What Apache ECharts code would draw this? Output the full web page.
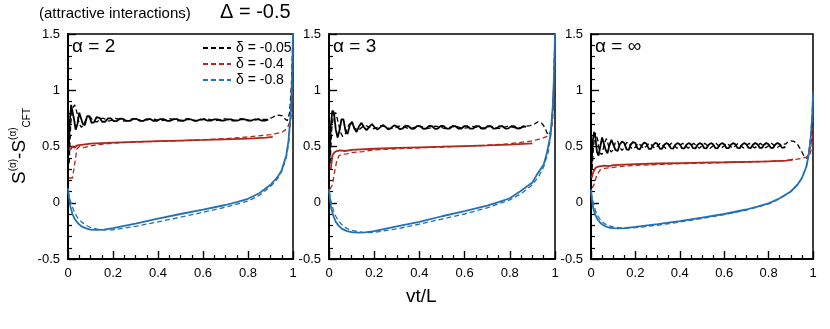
<!DOCTYPE html>
<html>
<head>
<meta charset="utf-8">
<script src="https://cdn.jsdelivr.net/npm/echarts@6/dist/echarts.min.js"></script>
</head>
<body style="margin:0">
<div id="chart" style="width:830px;height:329px"></div>
<script>
// panel labels and legend names
const panelLabels = ['α = 2', 'α = 3', 'α = ∞'];
const deltaNames = ['δ = -0.05', 'δ = -0.4', 'δ = -0.8'];

// ---- alpha = 2 ----
const blackSolid2 = [[0.003,0.45],[0.008,0.72],[0.014,0.87],[0.02,0.86],[0.027,0.74],[0.034,0.65],[0.042,0.70],[0.05,0.80],[0.058,0.79],[0.066,0.70],[0.075,0.69],[0.085,0.77],[0.095,0.77],[0.105,0.71],[0.115,0.715],[0.127,0.76],[0.14,0.755],[0.152,0.72],[0.165,0.72],[0.178,0.75],[0.19,0.75],[0.203,0.725],[0.216,0.725],[0.23,0.748],[0.245,0.745],[0.26,0.727],[0.275,0.728],[0.29,0.745],[0.305,0.745],[0.32,0.728],[0.335,0.728],[0.35,0.744],[0.365,0.744],[0.38,0.728],[0.395,0.728],[0.41,0.744],[0.425,0.743],[0.44,0.728],[0.455,0.729],[0.47,0.743],[0.485,0.743],[0.5,0.729],[0.515,0.729],[0.53,0.743],[0.545,0.742],[0.56,0.729],[0.575,0.73],[0.59,0.742],[0.605,0.742],[0.62,0.73],[0.635,0.73],[0.65,0.742],[0.665,0.741],[0.68,0.73],[0.695,0.731],[0.71,0.742],[0.725,0.741],[0.74,0.73],[0.755,0.731],[0.77,0.742],[0.785,0.742],[0.8,0.73],[0.815,0.73],[0.83,0.742],[0.845,0.742],[0.86,0.731],[0.875,0.73],[0.89,0.738]];
const blackDashed2 = [[0.005,0.35],[0.012,0.70],[0.02,0.84],[0.03,0.87],[0.04,0.80],[0.05,0.70],[0.06,0.67],[0.07,0.70],[0.085,0.76],[0.1,0.76],[0.115,0.72],[0.13,0.72],[0.145,0.75],[0.16,0.75],[0.175,0.725],[0.19,0.73],[0.21,0.75],[0.23,0.74],[0.25,0.725],[0.27,0.735],[0.29,0.748],[0.31,0.74],[0.33,0.728],[0.35,0.735],[0.37,0.747],[0.39,0.74],[0.41,0.728],[0.43,0.735],[0.45,0.747],[0.47,0.74],[0.49,0.728],[0.51,0.735],[0.53,0.747],[0.55,0.74],[0.57,0.728],[0.59,0.735],[0.61,0.747],[0.63,0.74],[0.65,0.728],[0.67,0.736],[0.69,0.748],[0.71,0.74],[0.73,0.728],[0.75,0.736],[0.77,0.748],[0.79,0.742],[0.81,0.73],[0.83,0.735],[0.85,0.745],[0.87,0.74],[0.89,0.74],[0.91,0.76],[0.93,0.78],[0.95,0.775],[0.965,0.745],[0.975,0.73],[0.985,0.80],[0.993,1.05],[1,1.5]];
const redSolid2 = [[0.01,0.47],[0.02,0.50],[0.03,0.49],[0.04,0.51],[0.06,0.515],[0.1,0.525],[0.2,0.535],[0.3,0.542],[0.4,0.548],[0.5,0.553],[0.6,0.558],[0.7,0.564],[0.8,0.57],[0.88,0.578],[0.91,0.585]];
const redDashed2 = [[0.005,0.22],[0.02,0.22],[0.03,0.35],[0.04,0.48],[0.05,0.50],[0.07,0.49],[0.1,0.505],[0.15,0.52],[0.2,0.53],[0.3,0.54],[0.4,0.545],[0.5,0.552],[0.6,0.56],[0.7,0.57],[0.8,0.585],[0.9,0.605],[0.95,0.625],[0.975,0.66],[0.99,0.75],[0.997,1.0],[1,1.5]];
const blueSolid2 = [[0,0.13],[0.005,0.04],[0.01,-0.03],[0.02,-0.1],[0.03,-0.145],[0.045,-0.185],[0.06,-0.21],[0.08,-0.228],[0.1,-0.238],[0.13,-0.242],[0.16,-0.238],[0.2,-0.225],[0.3,-0.185],[0.4,-0.142],[0.5,-0.1],[0.6,-0.062],[0.7,-0.02],[0.75,0.005],[0.8,0.035],[0.85,0.085],[0.9,0.16],[0.93,0.225],[0.95,0.29],[0.97,0.42],[0.98,0.55],[0.99,0.8],[0.996,1.1],[1,1.5]];
const blueDashed2 = [[0,0.1],[0.005,0.06],[0.01,0.02],[0.02,-0.04],[0.03,-0.09],[0.045,-0.14],[0.06,-0.17],[0.08,-0.2],[0.1,-0.22],[0.13,-0.235],[0.16,-0.242],[0.2,-0.24],[0.3,-0.21],[0.4,-0.17],[0.5,-0.128],[0.6,-0.085],[0.7,-0.04],[0.8,0.015],[0.85,0.065],[0.9,0.145],[0.93,0.21],[0.95,0.28],[0.97,0.40],[0.98,0.52],[0.99,0.75],[0.996,1.05],[1,1.5]];

// ---- alpha = 3 ----
const blackSolid3 = [[0.003,0.40],[0.008,0.68],[0.015,0.82],[0.022,0.80],[0.03,0.65],[0.038,0.58],[0.046,0.64],[0.055,0.74],[0.064,0.74],[0.073,0.64],[0.082,0.61],[0.092,0.69],[0.102,0.72],[0.112,0.66],[0.122,0.63],[0.133,0.68],[0.144,0.71],[0.155,0.67],[0.166,0.645],[0.178,0.675],[0.19,0.70],[0.202,0.67],[0.214,0.65],[0.226,0.67],[0.238,0.69],[0.25,0.675],[0.262,0.652],[0.275,0.665],[0.288,0.688],[0.3,0.68],[0.313,0.655],[0.326,0.66],[0.339,0.685],[0.352,0.68],[0.365,0.656],[0.378,0.66],[0.391,0.684],[0.404,0.68],[0.417,0.657],[0.43,0.66],[0.443,0.683],[0.456,0.68],[0.469,0.657],[0.482,0.66],[0.495,0.683],[0.508,0.68],[0.521,0.658],[0.534,0.66],[0.547,0.682],[0.56,0.68],[0.573,0.658],[0.586,0.66],[0.599,0.682],[0.612,0.68],[0.625,0.658],[0.638,0.66],[0.651,0.682],[0.664,0.68],[0.677,0.658],[0.69,0.66],[0.703,0.682],[0.716,0.68],[0.729,0.658],[0.742,0.661],[0.755,0.682],[0.768,0.68],[0.781,0.659],[0.794,0.661],[0.807,0.681],[0.82,0.68],[0.833,0.66],[0.846,0.662],[0.859,0.68],[0.872,0.675]];
const blackDashed3 = [[0.005,0.35],[0.012,0.65],[0.02,0.78],[0.03,0.80],[0.04,0.72],[0.05,0.63],[0.06,0.59],[0.07,0.60],[0.08,0.66],[0.09,0.70],[0.1,0.70],[0.115,0.66],[0.13,0.645],[0.145,0.67],[0.16,0.69],[0.175,0.675],[0.19,0.655],[0.21,0.665],[0.23,0.685],[0.25,0.675],[0.27,0.658],[0.29,0.665],[0.31,0.682],[0.33,0.676],[0.35,0.66],[0.37,0.664],[0.39,0.681],[0.41,0.676],[0.43,0.66],[0.45,0.665],[0.47,0.681],[0.49,0.675],[0.51,0.66],[0.53,0.666],[0.55,0.681],[0.57,0.675],[0.59,0.66],[0.61,0.666],[0.63,0.68],[0.65,0.675],[0.67,0.66],[0.69,0.667],[0.71,0.68],[0.73,0.674],[0.75,0.66],[0.77,0.667],[0.79,0.68],[0.81,0.674],[0.83,0.662],[0.85,0.668],[0.87,0.68],[0.89,0.685],[0.91,0.70],[0.925,0.72],[0.94,0.71],[0.955,0.67],[0.965,0.62],[0.975,0.60],[0.985,0.67],[0.993,0.95],[1,1.5]];
const redSolid3 = [[0.008,0.30],[0.015,0.42],[0.025,0.45],[0.035,0.46],[0.05,0.465],[0.07,0.46],[0.1,0.47],[0.2,0.48],[0.3,0.487],[0.4,0.493],[0.5,0.498],[0.6,0.504],[0.7,0.51],[0.8,0.517],[0.9,0.528]];
const redDashed3 = [[0.005,0.12],[0.015,0.16],[0.025,0.28],[0.035,0.38],[0.045,0.42],[0.06,0.43],[0.08,0.435],[0.1,0.445],[0.15,0.455],[0.2,0.47],[0.3,0.48],[0.4,0.488],[0.5,0.495],[0.6,0.502],[0.7,0.512],[0.8,0.525],[0.9,0.55],[0.94,0.57],[0.965,0.59],[0.98,0.62],[0.99,0.75],[0.997,1.1],[1,1.5]];
const blueSolid3 = [[0,0.12],[0.005,0.02],[0.01,-0.05],[0.02,-0.12],[0.03,-0.17],[0.045,-0.21],[0.06,-0.235],[0.08,-0.252],[0.1,-0.262],[0.13,-0.266],[0.16,-0.263],[0.2,-0.252],[0.3,-0.21],[0.4,-0.17],[0.5,-0.12],[0.6,-0.075],[0.7,-0.025],[0.75,0.005],[0.8,0.04],[0.845,0.1],[0.9,0.18],[0.92,0.25],[0.95,0.34],[0.965,0.45],[0.98,0.6],[0.99,0.85],[0.996,1.15],[1,1.5]];
const blueDashed3 = [[0,0.1],[0.005,0.05],[0.01,0.0],[0.02,-0.07],[0.03,-0.12],[0.045,-0.17],[0.06,-0.2],[0.08,-0.23],[0.1,-0.245],[0.13,-0.258],[0.16,-0.265],[0.2,-0.264],[0.3,-0.232],[0.4,-0.19],[0.5,-0.145],[0.6,-0.1],[0.7,-0.045],[0.8,0.025],[0.85,0.08],[0.9,0.16],[0.93,0.24],[0.95,0.32],[0.97,0.45],[0.98,0.58],[0.99,0.82],[0.996,1.1],[1,1.5]];

// ---- alpha = infinity ----
const blackSolidInf = [[0.003,0.35],[0.008,0.55],[0.014,0.63],[0.02,0.58],[0.027,0.45],[0.034,0.42],[0.042,0.50],[0.05,0.58],[0.058,0.57],[0.066,0.47],[0.074,0.44],[0.083,0.51],[0.092,0.56],[0.101,0.55],[0.11,0.47],[0.12,0.46],[0.13,0.52],[0.14,0.545],[0.15,0.53],[0.16,0.475],[0.17,0.47],[0.18,0.52],[0.19,0.54],[0.2,0.53],[0.21,0.48],[0.22,0.475],[0.23,0.515],[0.24,0.535],[0.25,0.525],[0.26,0.48],[0.27,0.478],[0.28,0.515],[0.29,0.532],[0.3,0.522],[0.31,0.482],[0.32,0.48],[0.33,0.515],[0.34,0.53],[0.35,0.52],[0.36,0.483],[0.37,0.482],[0.38,0.515],[0.39,0.53],[0.4,0.52],[0.41,0.484],[0.42,0.483],[0.43,0.515],[0.44,0.53],[0.45,0.52],[0.46,0.485],[0.47,0.483],[0.48,0.515],[0.49,0.53],[0.5,0.52],[0.51,0.485],[0.52,0.484],[0.53,0.515],[0.54,0.53],[0.55,0.52],[0.56,0.486],[0.57,0.484],[0.58,0.516],[0.59,0.53],[0.6,0.52],[0.61,0.486],[0.62,0.485],[0.63,0.516],[0.64,0.53],[0.65,0.52],[0.66,0.487],[0.67,0.485],[0.68,0.516],[0.69,0.53],[0.7,0.52],[0.71,0.487],[0.72,0.486],[0.73,0.517],[0.74,0.53],[0.75,0.52],[0.76,0.488],[0.77,0.487],[0.78,0.517],[0.79,0.53],[0.8,0.52],[0.81,0.488],[0.82,0.487],[0.83,0.518],[0.84,0.532],[0.85,0.52],[0.86,0.49],[0.87,0.49],[0.875,0.5]];
const blackDashedInf = [[0.005,0.30],[0.012,0.52],[0.02,0.62],[0.03,0.56],[0.04,0.44],[0.05,0.43],[0.06,0.53],[0.07,0.57],[0.08,0.50],[0.09,0.45],[0.1,0.47],[0.11,0.54],[0.12,0.55],[0.13,0.49],[0.14,0.465],[0.15,0.49],[0.16,0.535],[0.17,0.535],[0.18,0.49],[0.19,0.475],[0.2,0.495],[0.2125,0.53],[0.225,0.508],[0.2375,0.482],[0.25,0.505],[0.2625,0.53],[0.275,0.508],[0.2875,0.483],[0.3,0.505],[0.3125,0.53],[0.325,0.507],[0.3375,0.483],[0.35,0.505],[0.3625,0.529],[0.375,0.507],[0.3875,0.484],[0.4,0.505],[0.4125,0.529],[0.425,0.507],[0.4375,0.484],[0.45,0.505],[0.4625,0.529],[0.475,0.507],[0.4875,0.485],[0.5,0.505],[0.5125,0.528],[0.525,0.507],[0.5375,0.485],[0.55,0.506],[0.5625,0.528],[0.575,0.507],[0.5875,0.486],[0.6,0.506],[0.6125,0.528],[0.625,0.507],[0.6375,0.486],[0.65,0.506],[0.6625,0.528],[0.675,0.507],[0.6875,0.487],[0.7,0.506],[0.7125,0.528],[0.725,0.507],[0.7375,0.487],[0.75,0.506],[0.7625,0.528],[0.775,0.508],[0.7875,0.488],[0.8,0.507],[0.8125,0.528],[0.825,0.508],[0.8375,0.488],[0.85,0.507],[0.8625,0.528],[0.875,0.52],[0.8875,0.54],[0.9,0.55],[0.915,0.545],[0.93,0.52],[0.945,0.47],[0.96,0.415],[0.97,0.395],[0.98,0.43],[0.99,0.52],[1,0.75]];
const redSolidInf = [[0.003,0.22],[0.01,0.27],[0.02,0.31],[0.03,0.32],[0.045,0.325],[0.06,0.33],[0.08,0.325],[0.1,0.335],[0.2,0.343],[0.3,0.349],[0.4,0.353],[0.5,0.357],[0.6,0.36],[0.7,0.364],[0.8,0.368],[0.88,0.375],[0.91,0.385]];
const redDashedInf = [[0.005,0.13],[0.015,0.17],[0.025,0.24],[0.04,0.29],[0.06,0.305],[0.08,0.31],[0.1,0.315],[0.15,0.325],[0.2,0.332],[0.3,0.34],[0.4,0.347],[0.5,0.352],[0.6,0.357],[0.7,0.362],[0.8,0.368],[0.88,0.375],[0.92,0.385],[0.95,0.395],[0.97,0.405],[0.985,0.42],[0.995,0.5],[1,0.65]];
const blueSolidInf = [[0,0.12],[0.005,0.02],[0.01,-0.05],[0.02,-0.11],[0.03,-0.15],[0.045,-0.185],[0.06,-0.205],[0.08,-0.22],[0.1,-0.226],[0.12,-0.228],[0.15,-0.225],[0.2,-0.215],[0.3,-0.19],[0.4,-0.163],[0.5,-0.133],[0.6,-0.1],[0.7,-0.06],[0.75,-0.035],[0.8,-0.005],[0.85,0.04],[0.9,0.1],[0.93,0.16],[0.95,0.22],[0.97,0.32],[0.98,0.42],[0.99,0.58],[0.996,0.75],[1,0.95]];
const blueDashedInf = [[0,0.09],[0.005,0.04],[0.01,0.0],[0.02,-0.07],[0.03,-0.115],[0.045,-0.16],[0.06,-0.185],[0.08,-0.205],[0.1,-0.215],[0.13,-0.222],[0.16,-0.225],[0.2,-0.222],[0.3,-0.2],[0.4,-0.172],[0.5,-0.14],[0.6,-0.105],[0.7,-0.065],[0.8,-0.01],[0.85,0.035],[0.9,0.1],[0.93,0.16],[0.95,0.22],[0.97,0.32],[0.98,0.43],[0.99,0.6],[0.996,0.78],[1,1.0]];

// [black, red, blue] for each panel
const solidLines = [
  [blackSolid2, redSolid2, blueSolid2],
  [blackSolid3, redSolid3, blueSolid3],
  [blackSolidInf, redSolidInf, blueSolidInf]
];
const dashedLines = [
  [blackDashed2, redDashed2, blueDashed2],
  [blackDashed3, redDashed3, blueDashed3],
  [blackDashedInf, redDashedInf, blueDashedInf]
];

const colors = ['#000000', '#b3261c', '#2271b5'];
const FONT = 'Liberation Sans';
const grids = [
  { left: 68, top: 34, width: 225, height: 225 },
  { left: 329, top: 34, width: 226, height: 225 },
  { left: 591, top: 34, width: 222, height: 225 }
];

const chart = echarts.init(document.getElementById('chart'));

const series = [];
// dashed series first so the legend icons come from them
dashedLines.forEach((lines, p) => {
  lines.forEach((data, k) => {
    series.push({
      type: 'line', name: deltaNames[k], xAxisIndex: p, yAxisIndex: p, data: data,
      symbol: 'none',
      lineStyle: { color: colors[k], width: 1.3, type: [5, 3] },
      itemStyle: { color: colors[k] }
    });
  });
});
solidLines.forEach((lines, p) => {
  lines.forEach((data, k) => {
    series.push({
      type: 'line', name: deltaNames[k] + ' (solid)', xAxisIndex: p, yAxisIndex: p, data: data,
      symbol: 'none',
      lineStyle: { color: colors[k], width: 1.8 },
      itemStyle: { color: colors[k] }
    });
  });
});

const plainText = (text, left, top, size) => ({
  text: text, left: left, top: top, padding: 0,
  textStyle: { fontFamily: FONT, fontSize: size, fontWeight: 'normal', color: '#000' }
});
const titles = [
  plainText('(attractive interactions)', 39, 6, 15),
  plainText('Δ = -0.5', 220, 2, 20),
  plainText('vt/L', 406, 287, 19)
];
panelLabels.forEach((t, i) => titles.push(plainText(t, grids[i].left + 4, 37, 19)));

// rotated y axis title, kept out of the axis name
const yTitle = {
  type: 'text',
  x: 20, y: 146,
  rotation: Math.PI / 2,
  style: {
    text: '{s|S}{sup|(α)}{s|-S}{sup|(α)}{sub|CFT}',
    align: 'center',
    verticalAlign: 'middle',
    rich: {
      s: { fontFamily: FONT, fontSize: 19, fill: '#000', lineHeight: 30, verticalAlign: 'middle' },
      sup: { fontFamily: FONT, fontSize: 10, fill: '#000', lineHeight: 30, verticalAlign: 'top', padding: [3, 0, 0, 0] },
      sub: { fontFamily: FONT, fontSize: 10, fill: '#000', lineHeight: 30, verticalAlign: 'bottom', padding: [0, 0, 3, 0] }
    }
  }
};

chart.setOption({
  animation: false,
  title: titles,
  grid: grids.map(g => Object.assign({ show: true, borderColor: '#000', borderWidth: 1.5, backgroundColor: 'transparent' }, g)),
  xAxis: grids.map((g, i) => ({
    type: 'value', gridIndex: i, min: 0, max: 1, interval: 0.2,
    axisLine: { show: true, onZero: false, lineStyle: { color: '#000', width: 2 } },
    axisTick: { show: true, inside: true, length: 8, lineStyle: { color: '#000', width: 1.4 } },
    minorTick: { show: true, splitNumber: 4, length: 4, lineStyle: { color: '#000', width: 1.2 } },
    splitLine: { show: false },
    axisLabel: { color: '#000', fontSize: 13 }
  })),
  yAxis: grids.map((g, i) => ({
    type: 'value', gridIndex: i, min: -0.5, max: 1.5, interval: 0.5,
    axisLine: { show: true, onZero: false, lineStyle: { color: '#000', width: 2 } },
    axisTick: { show: true, inside: true, length: 8, lineStyle: { color: '#000', width: 1.4 } },
    minorTick: { show: true, splitNumber: 5, length: 4, lineStyle: { color: '#000', width: 1.2 } },
    splitLine: { show: false },
    axisLabel: { color: '#000', fontSize: 13 }
  })),
  legend: {
    data: deltaNames,
    orient: 'vertical',
    left: 197,
    top: 36,
    itemGap: 2,
    itemWidth: 28,
    itemHeight: 14,
    selectedMode: false,
    itemStyle: { opacity: 0 },
    textStyle: { fontFamily: FONT, fontSize: 14, color: '#000' }
  },
  graphic: [yTitle],
  series: series
});
</script>
</body>
</html>
